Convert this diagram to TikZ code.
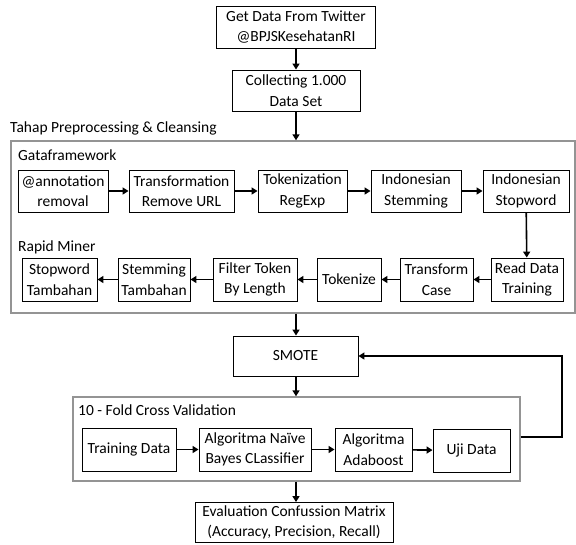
\documentclass[tikz,border=0pt]{standalone}
\usepackage{fontspec}
\setmainfont{Carlito}
\usetikzlibrary{arrows.meta,positioning}
\begin{document}
\begin{tikzpicture}[x=1pt,y=-1pt,
  font=\fontsize{15.5}{20.5}\selectfont,
  box/.style={draw=black,line width=0.9pt,inner sep=0pt,align=center,fill=white},
  group/.style={draw=black!42,line width=1.4pt,inner sep=0pt},
  lbl/.style={anchor=west,inner sep=0pt},
  arr/.style={line width=1.6pt,-{Triangle[width=7pt,length=6pt]}}]
\useasboundingbox (0,0) rectangle (576,544);
% top
\node[box,minimum width=159pt,minimum height=42pt] (get) at (296,27) {Get Data From Twitter\\@BPJSKesehatanRI};
\node[box,minimum width=128pt,minimum height=41pt] (coll) at (296,90.5) {Collecting 1.000\\Data Set};
\node[lbl] (tahap) at (10,128) {Tahap Preprocessing \& Cleansing};
% preprocessing group
\node[group,minimum width=564pt,minimum height=172pt] (pre) at (293,227) {};
\node[lbl] (gata) at (18,155) {Gataframework};
\node[lbl] (rapid) at (18,247) {Rapid Miner};
% row 1
\node[box,minimum width=90pt,minimum height=42pt] (ann) at (63,191) {@annotation\\removal};
\node[box,minimum width=105pt,minimum height=42pt] (trf) at (181.5,191) {Transformation\\Remove URL};
\node[box,minimum width=89pt,minimum height=42pt] (tok) at (302.5,191) {Tokenization\\RegExp};
\node[box,minimum width=90pt,minimum height=42pt] (stem) at (416,191) {Indonesian\\Stemming};
\node[box,minimum width=86pt,minimum height=42pt] (stop) at (526,191) {Indonesian\\Stopword};
% row 2
\node[box,minimum width=72pt,minimum height=43pt] (read) at (527,279.5) {Read Data\\Training};
\node[box,minimum width=73pt,minimum height=43pt] (tcase) at (436.5,279.5) {Transform\\Case};
\node[box,minimum width=64pt,minimum height=43pt] (tokz) at (349,279.5) {Tokenize};
\node[box,minimum width=84pt,minimum height=43pt] (filt) at (255,279.5) {Filter Token\\By Length};
\node[box,minimum width=72pt,minimum height=43pt] (stemt) at (154,279.5) {Stemming\\Tambahan};
\node[box,minimum width=75pt,minimum height=43pt] (stopt) at (59.5,279.5) {Stopword\\Tambahan};
% smote
\node[box,minimum width=125pt,minimum height=40pt] (smote) at (295.5,356) {SMOTE};
% CV group
\node[group,minimum width=447pt,minimum height=84pt] (cv) at (296.5,439) {};
\node[lbl] (cvl) at (78,410) {10 - Fold Cross Validation};
\node[box,minimum width=94pt,minimum height=43pt] (train) at (129,449.5) {Training Data};
\node[box,minimum width=112pt,minimum height=43pt] (nb) at (255,449.5) {Algoritma Na\"{\i}ve\\Bayes CLassifier};
\node[box,minimum width=77pt,minimum height=43pt] (ada) at (373.5,449.5) {Algoritma\\Adaboost};
\node[box,minimum width=77pt,minimum height=43pt] (uji) at (471.5,450.5) {Uji Data};
% eval
\node[box,minimum width=198pt,minimum height=40pt] (eval) at (294,522.5) {Evaluation Confussion Matrix\\(Accuracy, Precision, Recall)};
% arrows
\draw[arr] (get) -- (coll);
\draw[arr] (coll) -- (pre.north -| coll);
\draw[arr] (ann) -- (trf);
\draw[arr] (trf) -- (tok);
\draw[arr] (tok) -- (stem);
\draw[arr] (stem) -- (stop);
\draw[arr] (stop) -- (read);
\draw[arr] (read) -- (tcase);
\draw[arr] (tcase) -- (tokz);
\draw[arr] (tokz) -- (filt);
\draw[arr] (filt) -- (stemt);
\draw[arr] (stemt) -- (stopt);
\draw[arr] (pre.south -| coll) -- (smote.north -| coll);
\draw[arr] (smote.south -| coll) -- (cv.north -| coll);
\draw[arr] (train) -- (nb);
\draw[arr] (nb) -- (ada);
\draw[arr] (ada) -- (uji);
\draw[arr] (cv.south -| coll) -- (eval.north -| coll);
\coordinate (fbx) at (562,437);
\draw[arr] (cv.east |- fbx) -- (fbx) |- (smote.east);
\end{tikzpicture}
\end{document}
